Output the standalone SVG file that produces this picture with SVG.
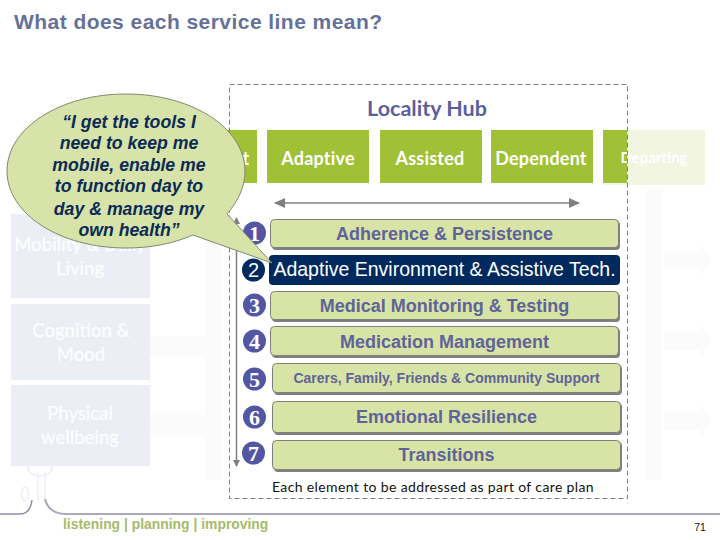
<svg xmlns="http://www.w3.org/2000/svg" width="720" height="540" viewBox="0 0 720 540">
<style>
.title{font:bold 21px "Liberation Sans",Arial,sans-serif;fill:#66719a;letter-spacing:.45px}
.hub{font:bold 21.5px "Lato","Open Sans",sans-serif;fill:#5b5f9f}
.stage{fill:#a0c135}
.stxt{font:bold 18px "Lato","Open Sans",sans-serif;fill:#fff;text-anchor:middle;letter-spacing:.2px}
.pale{fill:#eceef6}
.ptxt{font:500 18.500px "Lato","Open Sans",sans-serif;fill:#fff;text-anchor:middle}
.bar{fill:#d8e4a6;stroke:#80807a;stroke-width:1}
.shadow{fill:#7f7f7f}
.btxt{font:bold 18px "Liberation Sans",Arial,sans-serif;fill:#5f6399;text-anchor:middle}
.num{fill:#5356a2}
.ntxt{font:bold 22px "Liberation Serif",serif;fill:#fff;text-anchor:middle}
.quote{font:italic bold 17.7px "Liberation Sans",Arial,sans-serif;fill:#0b2a55;text-anchor:middle}
.ln{stroke:#7f7f7f;fill:none}
.ghost{fill:#fbfbfc}
</style>
<defs>
<marker id="ah" markerWidth="11" markerHeight="10" refX="10" refY="5" orient="auto-start-reverse" markerUnits="userSpaceOnUse"><path d="M0 0L11 5L0 10Z" fill="#7f7f7f"/></marker>
<marker id="ahs" markerWidth="7" markerHeight="7" refX="6" refY="3.5" orient="auto-start-reverse" markerUnits="userSpaceOnUse"><path d="M0 0L7 3.5L0 7Z" fill="#7f7f7f"/></marker>
</defs>
<rect width="720" height="540" fill="#fff"/>
<text class="title" x="14" y="29">What does each service line mean?</text>

<g id="ghost-arrows">
<path class="ghost" d="M150 336H218V356H150ZM150 415H218V435H150ZM205 190H222V480H205Z"/>
<path class="ghost" d="M645 190H662V480H645Z"/>
<path class="ghost" d="M664 253H700V245L712 260L700 275V267H664ZM664 332H700V324L712 341L700 358V350H664ZM664 412H700V404L712 421L700 438V430H664Z"/>
</g>

<g id="logo">
<path d="M38 500V472M45 500V472" fill="none" stroke="#eeeff4" stroke-width="1.500"/>
<ellipse cx="40" cy="468" rx="12" ry="8" fill="none" stroke="#eeeff4" stroke-width="1.500"/>
<ellipse cx="25" cy="494" rx="3.500" ry="7" fill="none" stroke="#eeeff4" stroke-width="1.500"/>
<path d="M45 499C47 507 53 514 66 514H720" fill="none" stroke="#a9aabf" stroke-width="2"/>
<path d="M0 514H20C28 514 31 508 32 500" fill="none" stroke="#8a8cb0" stroke-width="1.500"/>
<text x="63" y="529" font-family="'Liberation Sans',Arial,sans-serif" font-size="13.900" font-weight="bold" fill="#a5bb6a">listening | planning | improving</text>
</g>

<g id="pale-mobility"><rect class="pale" x="11" y="214" width="139" height="84"/><text class="ptxt" x="80" y="251">Mobility &amp; Daily</text><text class="ptxt" x="80" y="275">Living</text></g>
<g id="pale-cognition"><rect class="pale" x="11" y="304" width="139" height="76"/><text class="ptxt" x="81" y="337">Cognition &amp;</text><text class="ptxt" x="81" y="361">Mood</text></g>
<g id="pale-physical"><rect class="pale" x="11" y="385" width="139" height="81"/><text class="ptxt" x="80" y="420">Physical</text><text class="ptxt" x="80" y="444">wellbeing</text></g>

<g id="stage-partial"><rect class="stage" x="200" y="130" width="57" height="53"/><text class="stxt" x="246" y="165">t</text></g>
<g id="stage-adaptive"><rect class="stage" x="267" y="130" width="102" height="53"/><text class="stxt" x="318" y="165">Adaptive</text></g>
<g id="stage-assisted"><rect class="stage" x="380" y="130" width="102" height="53"/><text class="stxt" x="430" y="165">Assisted</text></g>
<g id="stage-dependent"><rect class="stage" x="491" y="130" width="102" height="53"/><text class="stxt" x="541" y="165">Dependent</text></g>
<g id="stage-departing"><rect x="603" y="130" width="102" height="55" fill="#f1f5e2"/><rect class="stage" x="603" y="130" width="24" height="53"/><text x="654" y="163" font-family="Lato,'Open Sans',sans-serif" font-size="15" font-weight="bold" fill="#fff" text-anchor="middle">Departing</text></g>

<g id="locality-hub"><rect x="229.500" y="84.500" width="398" height="414" fill="none" stroke="#7f7f7f" stroke-dasharray="5 3"/><text class="hub" x="427" y="116" text-anchor="middle">Locality Hub</text></g>

<g id="connectors">
<path class="ln" d="M275 203H579" stroke-width="1.500" marker-start="url(#ah)" marker-end="url(#ah)"/>
<path class="ln" d="M236.500 218V466" stroke-width="1.500" marker-start="url(#ahs)" marker-end="url(#ahs)"/>
</g>

<g id="step-1"><circle class="num" cx="254.500" cy="233" r="11.500"/><text class="ntxt" x="254.500" y="240.500">1</text><rect class="shadow" x="272" y="221" width="348" height="29" rx="4"/><rect class="bar" x="270.500" y="219.500" width="348" height="28" rx="4"/><text class="btxt" x="444.500" y="239.500">Adherence &amp; Persistence</text></g>
<g id="step-2"><circle cx="253.500" cy="270" r="11.500" fill="#002a5e"/><text x="253.500" y="277" font-family="'Liberation Sans',Arial,sans-serif" font-size="20" fill="#fff" text-anchor="middle">2</text><rect x="269" y="255" width="351" height="30" rx="4" fill="#002a5e"/><text x="444.500" y="276" font-family="'Liberation Sans',Arial,sans-serif" font-size="19.500" fill="#fff" text-anchor="middle">Adaptive Environment &amp; Assistive Tech.</text></g>
<g id="step-3"><circle class="num" cx="254.500" cy="305" r="11.500"/><text class="ntxt" x="254.500" y="312.500">3</text><rect class="shadow" x="272" y="293" width="348" height="29" rx="4"/><rect class="bar" x="270.500" y="291.500" width="348" height="28" rx="4"/><text class="btxt" x="444.500" y="311.500">Medical Monitoring &amp; Testing</text></g>
<g id="step-4"><circle class="num" cx="254.500" cy="341" r="11.500"/><text class="ntxt" x="254.500" y="348.500">4</text><rect class="shadow" x="272" y="328" width="348" height="30" rx="4"/><rect class="bar" x="270.500" y="326.500" width="348" height="29" rx="4"/><text class="btxt" x="444.500" y="347.500">Medication Management</text></g>
<g id="step-5"><circle class="num" cx="254.500" cy="379" r="11.500"/><text class="ntxt" x="254.500" y="386.500">5</text><rect class="shadow" x="274" y="365" width="348" height="30" rx="4"/><rect class="bar" x="272.500" y="363.500" width="348" height="29" rx="4"/><text class="btxt" x="446.500" y="383" style="font-size:14px">Carers, Family, Friends &amp; Community Support</text></g>
<g id="step-6"><circle class="num" cx="254.500" cy="417" r="11.500"/><text class="ntxt" x="254.500" y="424.500">6</text><rect class="shadow" x="274" y="403" width="348" height="32" rx="4"/><rect class="bar" x="272.500" y="401.500" width="348" height="31" rx="4"/><text class="btxt" x="446.500" y="423">Emotional Resilience</text></g>
<g id="step-7"><circle class="num" cx="253.500" cy="453" r="11.500"/><text class="ntxt" x="253.500" y="460.500">7</text><rect class="shadow" x="274" y="442" width="348" height="30" rx="4"/><rect class="bar" x="272.500" y="440.500" width="348" height="29" rx="4"/><text class="btxt" x="446.500" y="461">Transitions</text></g>

<text x="433" y="492" font-family="Lato,'Open Sans',sans-serif" font-size="14" letter-spacing=".37" fill="#111" text-anchor="middle">Each element to be addressed as part of care plan</text>
<text x="700" y="531" font-family="'Liberation Sans',Arial,sans-serif" font-size="10.500" fill="#111" text-anchor="middle">71</text>

<g id="callout">
<path d="M227 214C239 200 245 186 245 171C245 128 192 94 126 94C60 94 7 128 7 171C7 214 60 248 126 248C150 248 172 244 193 235L272 263Z" fill="#d7e3a8" stroke="#7f8a6e" stroke-width="1"/>
<text class="quote" x="129" y="128">“I get the tools I</text>
<text class="quote" x="129" y="149">need to keep me</text>
<text class="quote" x="129" y="171">mobile, enable me</text>
<text class="quote" x="129" y="192">to function day to</text>
<text class="quote" x="129" y="215">day &amp; manage my</text>
<text class="quote" x="129" y="236">own health”</text>
</g>
</svg>
